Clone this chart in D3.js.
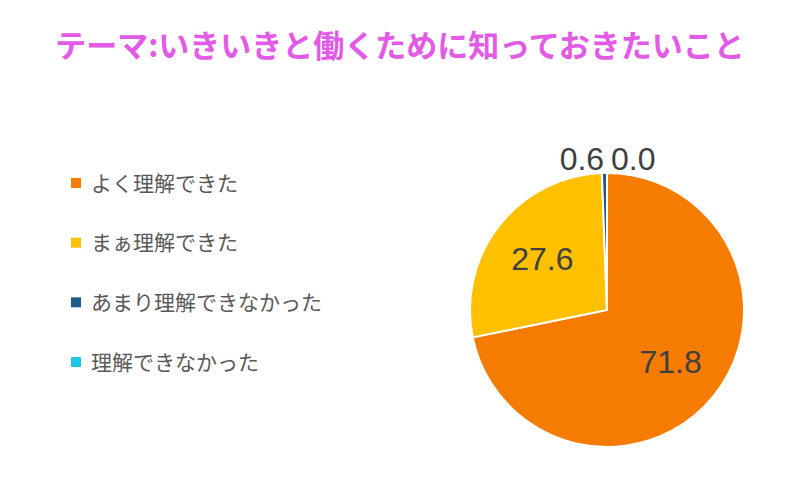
<!DOCTYPE html>
<html><head><meta charset="utf-8">
<script src="https://cdn.jsdelivr.net/npm/d3@7"></script>
<style>body{margin:0;background:#fff}</style></head>
<body><svg id="c" width="800" height="500"></svg>
<script>
const categories=["よく理解できた","まぁ理解できた","あまり理解できなかった","理解できなかった"];
const values=[71.8,27.6,0.6,0.0];
const labels=["71.8","27.6","0.6","0.0"];
const colors=["#F57C00","#FFC000","#1F5C8C","#1EC8E6"];
const svg=d3.select("#c");
const font="'Noto Sans CJK JP','Noto Sans',sans-serif";
svg.append("text").attr("x",400).attr("y",57).attr("text-anchor","middle")
 .attr("font-family",font).attr("font-weight","bold").attr("font-size",31)
 .attr("fill","#E25AE6").text("テーマ:いきいきと働くためにに知っておきたいこと".replace("にに","に"));
const cx=607,cy=310,r=137;
const g=svg.append("g").attr("transform",`translate(${cx},${cy})`);
const pie=d3.pie().sort(null).value(d=>d)(values);
const arc=d3.arc().innerRadius(0).outerRadius(r);
g.selectAll("path").data(pie).join("path").attr("d",arc)
 .attr("fill",(d,i)=>colors[i]).attr("stroke","#fff").attr("stroke-width",2);
const inner=d3.arc().innerRadius(r*0.6).outerRadius(r*0.6);
const outer=d3.arc().innerRadius(r+14).outerRadius(r+14);
g.selectAll("text.l").data(pie).join("text").attr("class","l")
 .attr("transform",(d,i)=>`translate(${(i<2?inner:outer).centroid(d)})`)
 .attr("text-anchor",(d,i)=>i==2?"end":i==3?"start":"middle")
 .attr("dx",(d,i)=>i==2?0:i==3?4:0)
 .attr("dy","0.35em")
 .attr("font-family","'Liberation Sans',Arial,sans-serif").attr("font-size",32)
 .attr("fill","#404040").text((d,i)=>labels[i]);
const ly=d3.scalePoint().domain(categories).range([183,362]);
const lg=svg.append("g");
categories.forEach((c,i)=>{
 lg.append("rect").attr("x",71).attr("y",ly(c)-5).attr("width",10).attr("height",10).attr("fill",colors[i]);
 lg.append("text").attr("x",91).attr("y",ly(c)).attr("dy","0.36em").attr("font-family",font)
  .attr("font-size",21).attr("fill","#595959").text(c);
});
</script></body></html>
